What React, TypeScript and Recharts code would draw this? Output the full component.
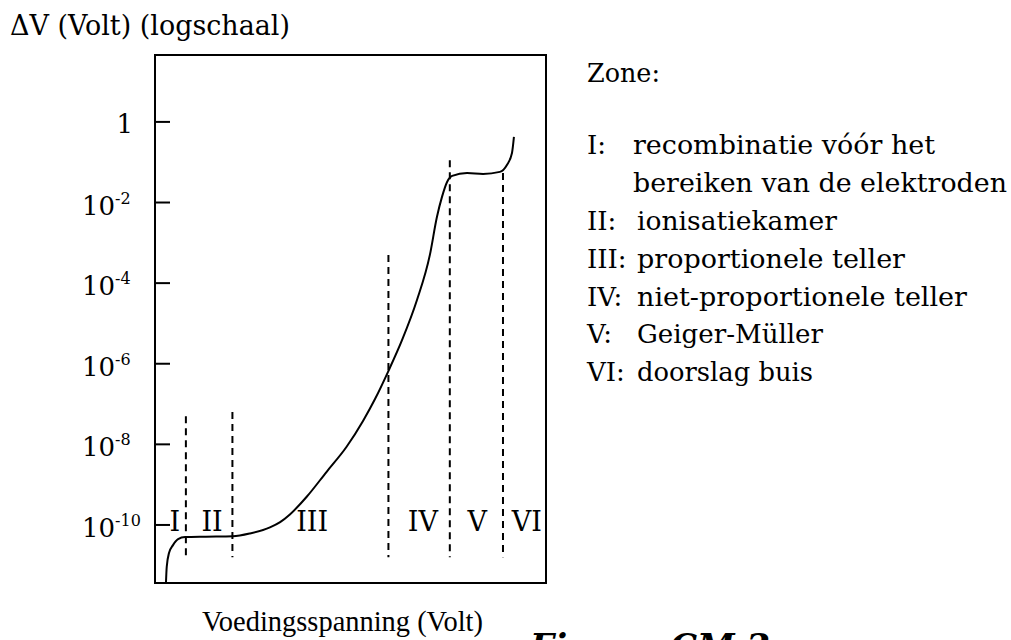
import React from 'react';
import { LineChart, Line, XAxis, YAxis, ReferenceLine, ReferenceArea, ReferenceDot } from 'recharts';

// Supply voltage (arbitrary units, 0..100) and log10(ΔV)
const supplyVoltage = [2.8, 3.0, 3.6, 4.6, 5.9, 7.7, 13.0, 19.9, 24.3, 29.4, 32.0, 34.5, 38.8, 43.9, 49.0, 53.2, 56.3, 59.6, 63.2, 67.0, 70.3, 72.1, 73.4, 74.7, 76.0, 79.8, 83.9, 88.2, 90.0, 91.3, 91.8];
const logDeltaV = [-11.44, -11.04, -10.69, -10.5, -10.35, -10.3, -10.29, -10.28, -10.21, -10.06, -9.93, -9.74, -9.3, -8.68, -8.06, -7.42, -6.87, -6.2, -5.41, -4.42, -3.3, -2.36, -1.86, -1.49, -1.34, -1.27, -1.29, -1.24, -1.07, -0.77, -0.37];

const yTicks = [0, -2, -4, -6, -8, -10];
const yDomain = [-11.44, 1.66];
const xDomain = [0, 100];

const zoneLabels = ['I', 'II', 'III', 'IV', 'V', 'VI'];
const zoneLabelX = [5.1, 14.6, 40.2, 68.5, 82.4, 95.1];
const zoneLabelY = -9.9;

const boundaryX = [7.9, 19.8, 59.7, 75.4, 89.0];
const boundaryTop = [-7.3, -7.2, -3.3, -0.95, -1.27];
const boundaryBottom = -10.8;

const legendKeys = ['I:', '', 'II:', 'III:', 'IV:', 'V:', 'VI:'];
const legendTexts = [
  'recombinatie vóór het',
  'bereiken van de elektroden',
  'ionisatiekamer',
  'proportionele teller',
  'niet-proportionele teller',
  'Geiger-Müller',
  'doorslag buis',
];

const data = supplyVoltage.map((v, i) => ({ v, y: logDeltaV[i] }));

const FONT = "'DejaVu Serif', serif";

const YTick = (props: any) => {
  const { x, y, payload } = props;
  const val = payload.value as number;
  return (
    <g>
      <line x1={x} y1={y} x2={x + 15} y2={y} stroke="#000" strokeWidth={2} />
      {val === 0 ? (
        <text x={x - 22} y={y + 11} textAnchor="end" fontFamily={FONT} fontSize={26} fill="#000">1</text>
      ) : (
        <text x={x - 73} y={y + 12} textAnchor="start" fontFamily={FONT} fill="#000">
          <tspan fontSize={26}>10</tspan>
          <tspan fontSize={16} dy={-11}>{String(val)}</tspan>
        </text>
      )}
    </g>
  );
};

const legendBaselines = [154, 192, 230, 268, 306, 343, 381];
const legendWidths = [302, 374, 200, 268, 330, 186, 176];

export default function App() {
  return (
    <div style={{ position: 'absolute', left: 0, top: 0, width: 1011, height: 640, background: '#fff' }}>
      <LineChart width={1011} height={640} data={data} margin={{ top: 55, right: 465, bottom: 57, left: 0 }}>
        <XAxis type="number" dataKey="v" domain={xDomain} hide />
        <YAxis
          type="number"
          domain={yDomain}
          ticks={yTicks}
          interval={0}
          width={155}
          axisLine={false}
          tickLine={false}
          tickSize={0}
          tickMargin={0}
          tick={<YTick />}
          allowDataOverflow
        />
        <ReferenceArea x1={xDomain[0]} x2={xDomain[1]} y1={yDomain[0]} y2={yDomain[1]} fill="none" fillOpacity={0} stroke="#000" strokeWidth={2} strokeOpacity={1} ifOverflow="visible" />
        {boundaryX.map((bx, i) => (
          <ReferenceLine
            key={'b' + i}
            segment={[{ x: bx, y: boundaryTop[i] }, { x: bx, y: boundaryBottom }]}
            stroke="#000"
            strokeWidth={2}
            strokeDasharray="7 5"
            ifOverflow="visible"
          />
        ))}
        {zoneLabels.map((lab, i) => (
          <ReferenceDot
            key={'z' + i}
            x={zoneLabelX[i]}
            y={zoneLabelY}
            r={1}
            fill="none"
            stroke="none"
            ifOverflow="visible"
            label={{ value: lab, position: 'center', fill: '#000', fontSize: 27, fontFamily: FONT }}
          />
        ))}
        <Line type="monotone" dataKey="y" stroke="#000" strokeWidth={2} dot={false} isAnimationActive={false} />
      </LineChart>
      <svg width={1011} height={640} style={{ position: 'absolute', left: 0, top: 0, pointerEvents: 'none' }}>
        <text x={10} y={35} fontFamily={FONT} fontSize={27} fill="#000" textLength={280} lengthAdjust="spacingAndGlyphs">ΔV (Volt) (logschaal)</text>
        <text x={587} y={82} fontFamily={FONT} fontSize={26} fill="#000" textLength={73} lengthAdjust="spacingAndGlyphs">Zone:</text>
        {legendTexts.map((t, i) => (
          <g key={'l' + i}>
            {legendKeys[i] ? (
              <text x={587} y={legendBaselines[i]} fontFamily={FONT} fontSize={26} fill="#000">{legendKeys[i]}</text>
            ) : null}
            <text x={i === 1 || i === 0 ? 633 : 637} y={legendBaselines[i]} fontFamily={FONT} fontSize={26} fill="#000" textLength={legendWidths[i]} lengthAdjust="spacingAndGlyphs">{t}</text>
          </g>
        ))}
        <text x={202} y={631} fontFamily="'Liberation Serif', serif" fontSize={29} fill="#000" textLength={281} lengthAdjust="spacingAndGlyphs">Voedingsspanning (Volt)</text>
        <text x={530} y={658} fontFamily={FONT} fontSize={34} fontWeight="bold" fontStyle="italic" fill="#000">Figuur CM 2</text>
      </svg>
    </div>
  );
}
